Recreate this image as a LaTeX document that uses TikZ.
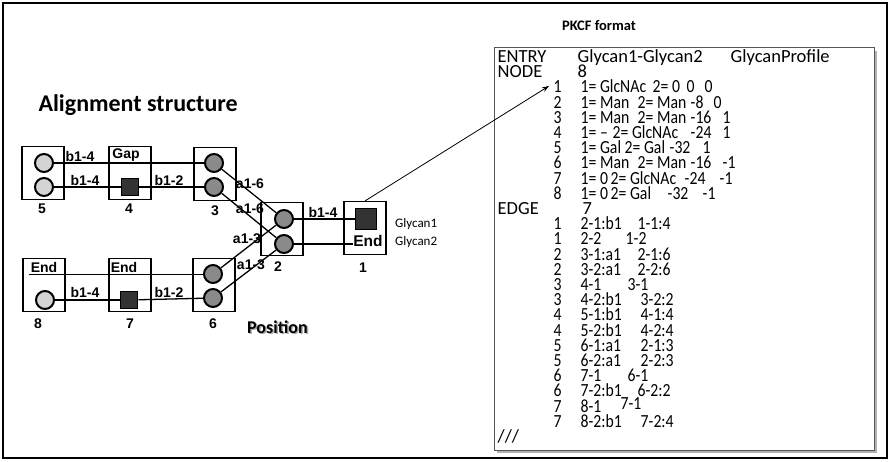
\documentclass[tikz,border=0pt]{standalone}
\usepackage{fontspec}
\setmainfont{Carlito}
\newfontfamily\lblfont{Liberation Sans}
\newfontfamily\lstfont[FakeStretch=0.85]{Carlito}
\usetikzlibrary{arrows.meta,positioning,calc}
\definecolor{lightNode}{HTML}{D4D4D4}
\definecolor{midNode}{HTML}{8A8A8A}
\definecolor{darkNode}{HTML}{333333}
\definecolor{frameGray}{HTML}{555555}
\newcommand{\fld}[2]{\makebox[0pt][l]{\hspace*{#1pt}#2}}

\begin{document}
\begin{tikzpicture}[
    x=1pt, y=-1pt,
    posBox/.style={draw, line width=1.2pt, minimum width=42pt, minimum height=53pt, inner sep=0pt},
    litCirc/.style={circle, draw, line width=2pt, fill=lightNode, minimum size=18pt, inner sep=0pt},
    midCirc/.style={circle, draw, line width=2pt, fill=midNode, minimum size=18pt, inner sep=0pt},
    gapSq/.style={rectangle, draw, line width=1.6pt, fill=darkNode, minimum size=17pt, inner sep=0pt},
    linkLabel/.style={font=\lblfont\bfseries\fontsize{14}{14}\selectfont, inner sep=0pt},
    posLabel/.style={font=\lblfont\bfseries\fontsize{14}{14}\selectfont, inner sep=0pt},
    link/.style={line width=1.3pt},
    lstRow/.style={anchor=base west, inner sep=0pt, font=\fontsize{18.5}{15}\selectfont},
    lstData/.style={lstRow, font=\lstfont\fontsize{18.5}{15}\selectfont}
]
\useasboundingbox (0,0) rectangle (890,462);
\draw[line width=1.5pt] (3,3) rectangle (887,458);

% titles
\node[anchor=west, font=\bfseries\fontsize{24}{24}\selectfont] (aligntitle) at (35,105) {Alignment structure};
\node[font=\bfseries\fontsize{14.5}{14.5}\selectfont] (pkcftitle) at (599,26) {PKCF format};
\node[anchor=west, inner sep=0pt, text=gray!65, font=\bfseries\fontsize{18}{18}\selectfont] (posshadow) at (248.5,328.5) {Position};
\node[anchor=west, inner sep=0pt, font=\bfseries\fontsize{18}{18}\selectfont] (postitle) at (247,327) {Position};

% position boxes
\node[posBox] (b5) at (43,173) {};
\node[posBox] (b4) at (130,173) {};
\node[posBox] (b3) at (215,174) {};
\node[posBox] (b2) at (282,229) {};
\node[posBox] (b1) at (365,228) {};
\node[posBox] (b6) at (214,285) {};
\node[posBox] (b7) at (130,285) {};
\node[posBox] (b8) at (44,285) {};

% residues
\node[litCirc] (c5a) at (44,163) {};
\node[litCirc] (c5b) at (44,187) {};
\node[gapSq] (s4) at (130,187) {};
\node[midCirc] (c3a) at (214,163) {};
\node[midCirc] (c3b) at (214,187) {};
\node[midCirc] (c2a) at (284,219) {};
\node[midCirc] (c2b) at (284,244) {};
\node[gapSq, minimum size=21pt] (s1) at (366,219) {};
\node[midCirc] (c6a) at (213,274) {};
\node[midCirc] (c6b) at (213,298) {};
\node[gapSq] (s7) at (129,300) {};
\node[litCirc] (c8) at (45,300) {};

% box texts
\node[linkLabel] (gap4) at (126,155) {Gap};
\node[linkLabel, inner sep=2pt] (end8) at (44,267) {End};
\node[linkLabel, inner sep=2pt] (end7) at (124,267) {End};
\node[linkLabel, font=\lblfont\bfseries\fontsize{15.5}{15.5}\selectfont] (end1) at (368,241) {End};

% position numbers
\node[posLabel] (n5) at (42,209) {5};
\node[posLabel] (n4) at (129,209) {4};
\node[posLabel] (n3) at (215,211) {3};
\node[posLabel] (n2) at (278,267) {2};
\node[posLabel] (n1) at (363,268) {1};
\node[posLabel] (n6) at (213,324) {6};
\node[posLabel] (n7) at (130,324) {7};
\node[posLabel] (n8) at (38,324) {8};

% links
\draw[link] (c5a) -- (c3a);
\draw[link] (c5b) -- (s4);
\draw[link] (s4) -- (c3b);
\draw[link] (c3a) -- (c2a);
\draw[link] (c3b) -- (c2b);
\draw[link] (c6a) -- (c2a);
\draw[link] (c6b) -- (c2b);
\draw[link] (c2a) -- (s1);
\draw[link] (c2b) -- (c2b -| end1.west);
\draw[link] (end8.south west) -- (end8.south west -| c6a.west);
\draw[link] (c8) -- (s7);
\draw[link] (s7) -- (c6b);

% link labels
\node[linkLabel] (lb1) at (80,156) {b1-4};
\node[linkLabel] (lb2) at (85,180) {b1-4};
\node[linkLabel] (lb3) at (169,180) {b1-2};
\node[linkLabel] (la1) at (250,184) {a1-6};
\node[linkLabel] (la2) at (250,209) {a1-6};
\node[linkLabel] (la3) at (247,239) {a1-3};
\node[linkLabel] (la4) at (251,265) {a1-3};
\node[linkLabel] (lb4) at (323,212) {b1-4};
\node[linkLabel] (lb5) at (85,292) {b1-4};
\node[linkLabel] (lb6) at (169,292) {b1-2};

% glycan names
\node[anchor=west, inner sep=0pt, font=\fontsize{13}{13}\selectfont] (g1) at (395,224) {Glycan1};
\node[anchor=west, inner sep=0pt, font=\fontsize{13}{13}\selectfont] (g2) at (395,242) {Glycan2};

% PKCF listing
\fill[gray!60] (497,51) rectangle (877,453);
\draw[frameGray, fill=white, line width=1pt] (494,48) rectangle (874,450);

\node[lstRow] (r0) at (497,62.5) {\fld{0}{ENTRY}\fld{80}{Glycan1-Glycan2}\fld{233}{GlycanProfile}};
\node[lstRow] (r1) at (497,77.7) {\fld{0}{NODE}\fld{80}{8}};
\node[lstData] (r2) at (497,92.9) {\fld{56}{1}\fld{83}{1= GlcNAc}\fld{155}{2= 0}\fld{189}{0}\fld{207}{0}};
\node[lstData] (r3) at (497,108.1) {\fld{56}{2}\fld{83}{1= Man}\fld{140}{2= Man}\fld{193}{-8}\fld{216}{0}};
\node[lstData] (r4) at (497,123.3) {\fld{56}{3}\fld{83}{1= Man}\fld{140}{2= Man}\fld{193}{-16}\fld{225}{1}};
\node[lstData] (r5) at (497,138.5) {\fld{56}{4}\fld{83}{1= –}\fld{115}{2= GlcNAc}\fld{193}{-24}\fld{225}{1}};
\node[lstData] (r6) at (497,153.7) {\fld{56}{5}\fld{83}{1= Gal}\fld{127}{2= Gal}\fld{172}{-32}\fld{205}{1}};
\node[lstData] (r7) at (497,168.9) {\fld{56}{6}\fld{83}{1= Man}\fld{140}{2= Man}\fld{193}{-16}\fld{225}{-1}};
\node[lstData] (r8) at (497,184.1) {\fld{56}{7}\fld{83}{1= 0}\fld{113}{2= GlcNAc}\fld{187}{-24}\fld{222}{-1}};
\node[lstData] (r9) at (497,199.3) {\fld{56}{8}\fld{83}{1= 0}\fld{113}{2= Gal}\fld{170}{-32}\fld{205}{-1}};
\node[lstRow] (r10) at (497,214.5) {\fld{0}{EDGE}\fld{85}{7}};
\node[lstData] (r11) at (497,229.7) {\fld{56}{1}\fld{83}{2-1:b1}\fld{140}{1-1:4}};
\node[lstData] (r12) at (497,244.9) {\fld{56}{1}\fld{83}{2-2}\fld{128}{1-2}};
\node[lstData] (r13) at (497,260.1) {\fld{56}{2}\fld{83}{3-1:a1}\fld{140}{2-1:6}};
\node[lstData] (r14) at (497,275.3) {\fld{56}{2}\fld{83}{3-2:a1}\fld{140}{2-2:6}};
\node[lstData] (r15) at (497,290.5) {\fld{56}{3}\fld{83}{4-1}\fld{130}{3-1}};
\node[lstData] (r16) at (497,305.7) {\fld{56}{3}\fld{83}{4-2:b1}\fld{143}{3-2:2}};
\node[lstData] (r17) at (497,320.9) {\fld{56}{4}\fld{83}{5-1:b1}\fld{143}{4-1:4}};
\node[lstData] (r18) at (497,336.1) {\fld{56}{4}\fld{83}{5-2:b1}\fld{143}{4-2:4}};
\node[lstData] (r19) at (497,351.3) {\fld{56}{5}\fld{83}{6-1:a1}\fld{143}{2-1:3}};
\node[lstData] (r20) at (497,366.5) {\fld{56}{5}\fld{83}{6-2:a1}\fld{143}{2-2:3}};
\node[lstData] (r21) at (497,381.7) {\fld{56}{6}\fld{83}{7-1}\fld{130}{6-1}};
\node[lstData] (r22) at (497,396.9) {\fld{56}{6}\fld{83}{7-2:b1}\fld{140}{6-2:2}};
\node[lstData] (r23) at (497,412.1) {\fld{56}{7}\fld{83}{8-1}\fld{123}{\raisebox{3pt}{7-1}}};
\node[lstData] (r24) at (497,427.3) {\fld{56}{7}\fld{83}{8-2:b1}\fld{143}{7-2:4}};
\node[lstRow] (r25) at (497,442) {\fld{0}{///}};

\coordinate (rowOne) at (549,86);
\draw[-{Stealth[length=7pt,width=5pt]}, line width=0.8pt] (b1.north) -- (rowOne);

\end{tikzpicture}
\end{document}
